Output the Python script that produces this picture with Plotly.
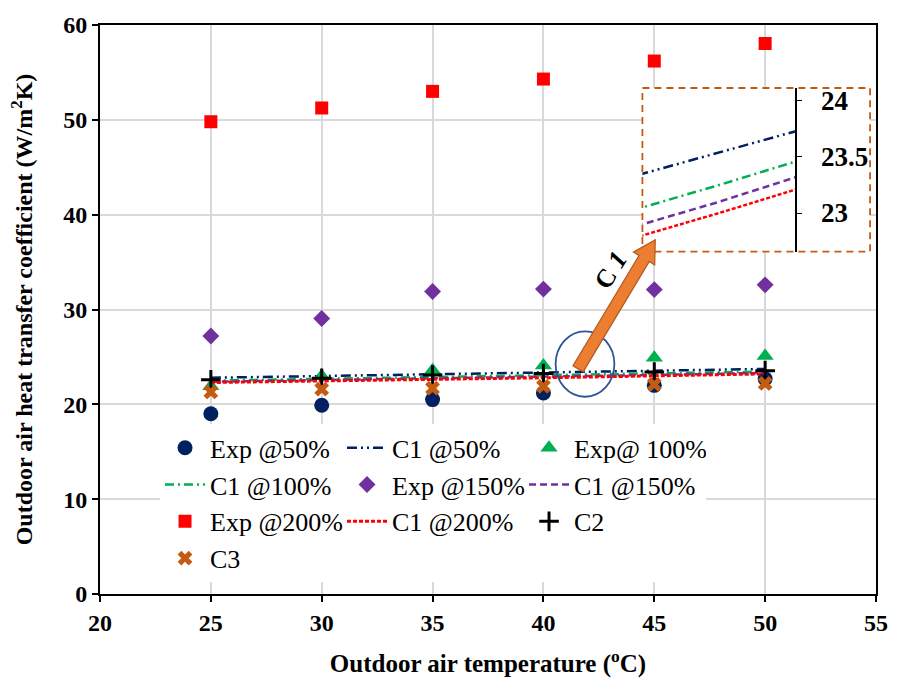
import plotly.graph_objects as go
import math

# ---------------- data ----------------
temps = [25, 30, 35, 40, 45, 50]
exp_50 = [19.0, 19.9, 20.5, 21.2, 22.0, 22.7]
exp_100 = [21.9, 23.0, 23.6, 24.1, 24.9, 25.1]
exp_150 = [27.2, 29.05, 31.9, 32.15, 32.1, 32.6]
exp_200 = [49.8, 51.25, 53.0, 54.3, 56.2, 58.05]
c1_50 = [22.8, 22.98, 23.16, 23.35, 23.54, 23.73]
c1_100 = [22.5, 22.68, 22.86, 23.05, 23.25, 23.46]
c1_150 = [22.38, 22.55, 22.72, 22.9, 23.1, 23.32]
c1_200 = [22.3, 22.45, 22.62, 22.8, 23.0, 23.21]
c2 = [22.6, 22.75, 23.1, 23.25, 23.4, 23.55]
c3 = [21.3, 21.6, 21.7, 21.9, 22.1, 22.2]

x_ticks = [20, 25, 30, 35, 40, 45, 50, 55]
y_ticks = [0, 10, 20, 30, 40, 50, 60]
inset_ticks = [23, 23.5, 24]

NAVY = "#002060"
GREEN = "#00B050"
PURPLE = "#7030A0"
RED = "#FF0000"
ORANGE = "#C55A11"
FONT = "Liberation Serif"

c1_styles = [
    ("C1 @50%", c1_50, NAVY, "10px,4px,2px,4px,2px,4px"),
    ("C1 @100%", c1_100, GREEN, "9px,4px,2px,4px"),
    ("C1 @150%", c1_150, PURPLE, "7px,4px"),
    ("C1 @200%", c1_200, RED, "4px,2px"),
]

fig = go.Figure()

def marker_trace(name, ys, color, symbol, size):
    return go.Scatter(x=temps, y=ys, mode="markers", name=name,
                      marker=dict(color=color, symbol=symbol, size=size))

fig.add_trace(marker_trace("Exp @50%", exp_50, NAVY, "circle", 15))
fig.add_trace(go.Scatter(x=temps, y=c1_50, mode="lines", name="C1 @50%",
                         line=dict(color=NAVY, width=2.5, dash=c1_styles[0][3])))
fig.add_trace(marker_trace("Exp@ 100%", exp_100, GREEN, "triangle-up", 15))
fig.add_trace(go.Scatter(x=temps, y=c1_100, mode="lines", name="C1 @100%",
                         line=dict(color=GREEN, width=2.5, dash=c1_styles[1][3])))
fig.add_trace(marker_trace("Exp @150%", exp_150, PURPLE, "diamond", 13))
fig.add_trace(go.Scatter(x=temps, y=c1_150, mode="lines", name="C1 @150%",
                         line=dict(color=PURPLE, width=2.5, dash=c1_styles[2][3])))
fig.add_trace(marker_trace("Exp @200%", exp_200, RED, "square", 13))
fig.add_trace(go.Scatter(x=temps, y=c1_200, mode="lines", name="C1 @200%",
                         line=dict(color=RED, width=3, dash=c1_styles[3][3])))
fig.add_trace(go.Scatter(x=temps, y=c2, mode="markers", name="C2",
                         marker=dict(color="black", symbol="cross-thin", size=14,
                                     line=dict(color="black", width=3))))
fig.add_trace(marker_trace("C3", c3, ORANGE, "x", 13))

# inset lines
for name, ys, color, dash in c1_styles:
    fig.add_trace(go.Scatter(x=temps, y=ys, mode="lines", name=name, showlegend=False,
                             line=dict(color=color, width=2.5, dash=dash),
                             xaxis="x2", yaxis="y2"))

# plot geometry (pixels)
W, H = 900, 686
L, R, T, B = 100, 16, 20.5, 92
pw, ph = W - L - R, H - T - B

def px(xp):
    return (xp - L) / pw

def py(yp):
    return (H - B - yp) / ph

box_x0, box_x1, box_y0, box_y1 = 648, 878, 84, 249

fig.update_layout(
    width=W, height=H,
    margin=dict(l=L, r=R, t=T, b=B),
    paper_bgcolor="white", plot_bgcolor="white",
    font=dict(family=FONT, color="black"),
    xaxis=dict(range=[20, 55], tickvals=x_ticks, showgrid=True, gridcolor="#D9D9D9",
               gridwidth=1.5, showline=True, linecolor="black", linewidth=2,
               mirror=True, ticks="outside", ticklen=6, tickwidth=2, tickcolor="black",
               tickfont=dict(family=FONT, size=24, color="black", weight="bold"),
               zeroline=False,
               title=dict(text="<b>Outdoor air temperature (<sup>o</sup>C)</b>",
                          font=dict(family=FONT, size=25, color="black"), standoff=20)),
    yaxis=dict(range=[0, 60], tickvals=y_ticks, showgrid=True, gridcolor="#D9D9D9",
               gridwidth=1.5, showline=True, linecolor="black", linewidth=2,
               mirror=True, ticks="outside", ticklen=6, tickwidth=2, tickcolor="black",
               tickfont=dict(family=FONT, size=24, color="black", weight="bold"),
               zeroline=False,
               title=dict(text="<b>Outdoor air heat transfer coefficient (W/m<sup>2</sup>K)</b>",
                          font=dict(family=FONT, size=24, color="black"), standoff=24)),
    xaxis2=dict(domain=[px(box_x0), px(box_x1)], range=[40, 40 + (box_x1 - box_x0) / 15.5],
                anchor="y2", visible=False),
    yaxis2=dict(domain=[py(box_y1), py(box_y0)], range=[22.655, 24.115],
                anchor="free", position=px(803), side="right",
                tickvals=inset_ticks, ticktext=["23", "23.5", "24"],
                showgrid=False, zeroline=False, showline=True, linecolor="black",
                linewidth=1.5, ticks="outside", ticklen=5, tickcolor="black",
                ticklabelstandoff=14,
                tickfont=dict(family=FONT, size=27, color="black", weight="bold")),
    legend=dict(orientation="h", x=px(166), y=py(423), xanchor="left", yanchor="top",
                entrywidth=127, bgcolor="white",
                font=dict(family=FONT, size=26, color="black"),
                itemwidth=40, traceorder="normal"),
    showlegend=True,
)

fig.add_shape(type="rect", xref="paper", yref="paper",
              x0=px(box_x0), x1=px(box_x1), y0=py(box_y1), y1=py(box_y0),
              line=dict(color=ORANGE, width=1.8, dash="7px,5px"), layer="above")

# ellipse highlight
fig.add_shape(type="circle", xref="x", yref="y", x0=40.55, x1=43.2, y0=20.8, y1=27.7,
              line=dict(color="#2F5597", width=1.8), layer="above")

# block arrow (decoration) built in pixel space then converted to paper coords
tail = (583.0, 367.0)
tip = (661.0, 237.0)
dx, dy = tip[0] - tail[0], tip[1] - tail[1]
ln = math.hypot(dx, dy)
ux, uy = dx / ln, dy / ln
nx, ny = -uy, ux
shaft, head_w, head_l = 6.0, 12.5, 22.0
bx, by = tip[0] - head_l * ux, tip[1] - head_l * uy
pts = [
    (tail[0] + shaft * nx, tail[1] + shaft * ny),
    (bx + shaft * nx, by + shaft * ny),
    (bx + head_w * nx, by + head_w * ny),
    tip,
    (bx - head_w * nx, by - head_w * ny),
    (bx - shaft * nx, by - shaft * ny),
    (tail[0] - shaft * nx, tail[1] - shaft * ny),
]
path = "M " + " L ".join(f"{px(a):.5f},{py(b):.5f}" for a, b in pts) + " Z"
fig.add_shape(type="path", xref="paper", yref="paper", path=path,
              fillcolor="#ED7D31", line=dict(color="#AE5A21", width=1.2), layer="above")

fig.add_annotation(x=px(616), y=py(268), xref="paper", yref="paper", showarrow=False,
                   text="<b>C <i>1</i></b>", textangle=-58,
                   font=dict(family=FONT, size=26, color="black"))

fig.write_html("out.html")
